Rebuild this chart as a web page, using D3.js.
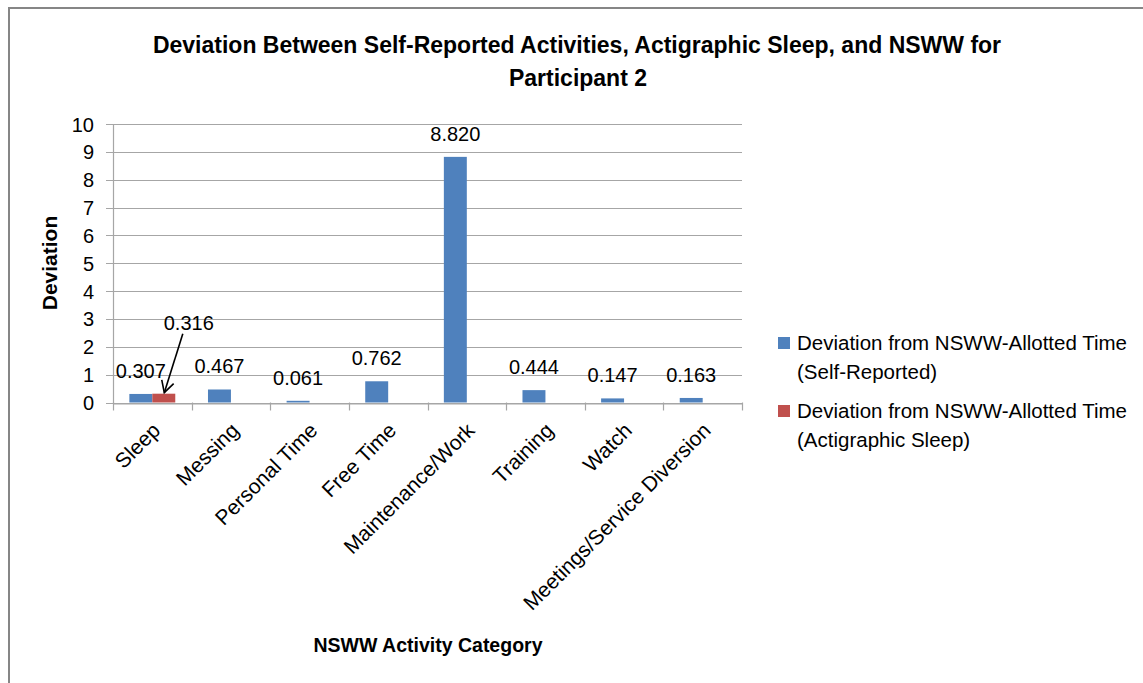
<!DOCTYPE html>
<html>
<head>
<meta charset="utf-8">
<script src="https://cdn.jsdelivr.net/npm/d3@7"></script>
<style>
  body { margin: 0; background: #fff; }
  text { font-family: "Liberation Sans", Arial, sans-serif; fill: #000; }
</style>
</head>
<body>
<svg id="chart" width="1143" height="683"></svg>
<script>
const categories = ["Sleep", "Messing", "Personal Time", "Free Time", "Maintenance/Work", "Training", "Watch", "Meetings/Service Diversion"];
const selfReported = [0.307, 0.467, 0.061, 0.762, 8.820, 0.444, 0.147, 0.163];
const actigraphic = [0.316, null, null, null, null, null, null, null];
const seriesNames = ["Deviation from NSWW-Allotted Time (Self-Reported)", "Deviation from NSWW-Allotted Time (Actigraphic Sleep)"];
const legendLines = [["Deviation from NSWW-Allotted Time", "(Self-Reported)"], ["Deviation from NSWW-Allotted Time", "(Actigraphic Sleep)"]];
const yTicks = [0, 1, 2, 3, 4, 5, 6, 7, 8, 9, 10];
const colors = ["#4f81bd", "#c0504d"];

const svg = d3.select("#chart");
const W = 1143, H = 683;
const plot = { left: 113, right: 742, top: 124, bottom: 402.5 };

// outer frame (left and top only visible)
svg.append("line").attr("x1", 9).attr("x2", 9).attr("y1", 7).attr("y2", H).attr("stroke", "#868686").attr("stroke-width", 2);
svg.append("line").attr("x1", 8).attr("x2", W).attr("y1", 8).attr("y2", 8).attr("stroke", "#868686").attr("stroke-width", 2);

const x = d3.scaleBand().domain(categories).range([plot.left, plot.right]).padding(0);
const y = d3.scaleLinear().domain([0, 10]).range([plot.bottom, plot.top]);
const barW = x.bandwidth() * 0.292;

// gridlines
svg.append("g").selectAll("line").data(yTicks).join("line")
  .attr("x1", plot.left - 7).attr("x2", plot.right)
  .attr("y1", d => Math.round(y(d)) + 0.5).attr("y2", d => Math.round(y(d)) + 0.5)
  .attr("stroke", "#a6a6a6").attr("stroke-width", 1.2);

// y axis
const yAxis = svg.append("g").attr("transform", `translate(${plot.left},0)`)
  .call(d3.axisLeft(y).tickValues(yTicks).tickSize(0).tickPadding(19).tickFormat(d3.format("d")));
yAxis.select(".domain").attr("stroke", "#a6a6a6").attr("stroke-width", 1.2);
yAxis.selectAll("text").style("font-size", "20px").attr("dy", "0.35em");

// x axis
const xAxis = svg.append("g").attr("transform", `translate(0,${Math.round(plot.bottom) + 0.5})`)
  .call(d3.axisBottom(x).tickSize(0).tickFormat(""));
xAxis.select(".domain").attr("stroke", "#a6a6a6").attr("stroke-width", 1.2);
const bounds = categories.map(c => x(c)).concat([plot.right]);
svg.append("g").selectAll("line").data(bounds).join("line")
  .attr("x1", d => Math.round(d) + 0.5).attr("x2", d => Math.round(d) + 0.5)
  .attr("y1", plot.bottom).attr("y2", plot.bottom + 8)
  .attr("stroke", "#a6a6a6").attr("stroke-width", 1.2);

// x labels rotated
svg.append("g").selectAll("text").data(categories).join("text")
  .attr("transform", d => `translate(${x(d) + x.bandwidth() / 2 + 4},${plot.bottom + 24}) rotate(-45)`)
  .attr("text-anchor", "end").attr("dy", "0.35em")
  .style("font-size", "21px").text(d => d);

// bars
const cx = d => x(d) + x.bandwidth() / 2;
svg.append("g").selectAll("rect").data(categories).join("rect")
  .attr("x", d => cx(d) - barW).attr("width", barW)
  .attr("y", (d, i) => y(selfReported[i])).attr("height", (d, i) => y(0) - y(selfReported[i]))
  .attr("fill", colors[0]);
svg.append("g").selectAll("rect").data(categories.filter((d, i) => actigraphic[i] != null)).join("rect")
  .attr("x", d => cx(d)).attr("width", barW)
  .attr("y", d => y(actigraphic[categories.indexOf(d)])).attr("height", d => y(0) - y(actigraphic[categories.indexOf(d)]))
  .attr("fill", colors[1]);

// data labels
svg.append("g").selectAll("text").data(categories).join("text")
  .attr("x", d => cx(d) - barW / 2).attr("y", (d, i) => y(selfReported[i]) - 16)
  .attr("text-anchor", "middle").style("font-size", "20px")
  .text((d, i) => d3.format(".3f")(selfReported[i]));

// actigraphic label with arrow
categories.forEach((c, i) => {
  if (actigraphic[i] == null) return;
  const bx = cx(c) + barW / 2, by = y(actigraphic[i]);
  svg.append("text").attr("x", bx + 25).attr("y", by - 64).attr("text-anchor", "middle")
    .style("font-size", "20px").text(d3.format(".3f")(actigraphic[i]));
  const x1 = bx + 19, y1 = by - 60, x2 = bx + 0.5, y2 = by - 1;
  svg.append("line").attr("x1", x1).attr("y1", y1).attr("x2", x2).attr("y2", y2)
    .attr("stroke", "#000").attr("stroke-width", 1.6);
  const ang = Math.atan2(y2 - y1, x2 - x1);
  const L = 13, spread = 0.5;
  const p1 = [x2 - L * Math.cos(ang - spread), y2 - L * Math.sin(ang - spread)];
  const p2 = [x2 - L * Math.cos(ang + spread), y2 - L * Math.sin(ang + spread)];
  svg.append("path").attr("d", `M${p1}L${x2},${y2}L${p2}`).attr("fill", "none")
    .attr("stroke", "#000").attr("stroke-width", 1.6);
});

// title
svg.append("text").attr("x", 577).attr("y", 53).attr("text-anchor", "middle")
  .style("font-size", "23px").style("font-weight", "bold")
  .text("Deviation Between Self-Reported Activities, Actigraphic Sleep, and NSWW for");
svg.append("text").attr("x", 578).attr("y", 86).attr("text-anchor", "middle")
  .style("font-size", "23px").style("font-weight", "bold").text("Participant 2");

// axis titles
svg.append("text").attr("transform", "translate(57,263) rotate(-90)").attr("text-anchor", "middle")
  .style("font-size", "21px").style("font-weight", "bold").text("Deviation");
svg.append("text").attr("x", 428).attr("y", 652).attr("text-anchor", "middle")
  .style("font-size", "19.5px").style("font-weight", "bold").text("NSWW Activity Category");

// legend
const lg = svg.append("g");
legendLines.forEach((lines, i) => {
  const top = 337 + i * 68;
  lg.append("rect").attr("x", 778).attr("y", top).attr("width", 12).attr("height", 12).attr("fill", colors[i]);
  lines.forEach((t, j) => {
    lg.append("text").attr("x", 797).attr("y", top + 6 + j * 29).attr("dy", "0.35em")
      .style("font-size", "20.5px").text(t);
  });
});
</script>
</body>
</html>
